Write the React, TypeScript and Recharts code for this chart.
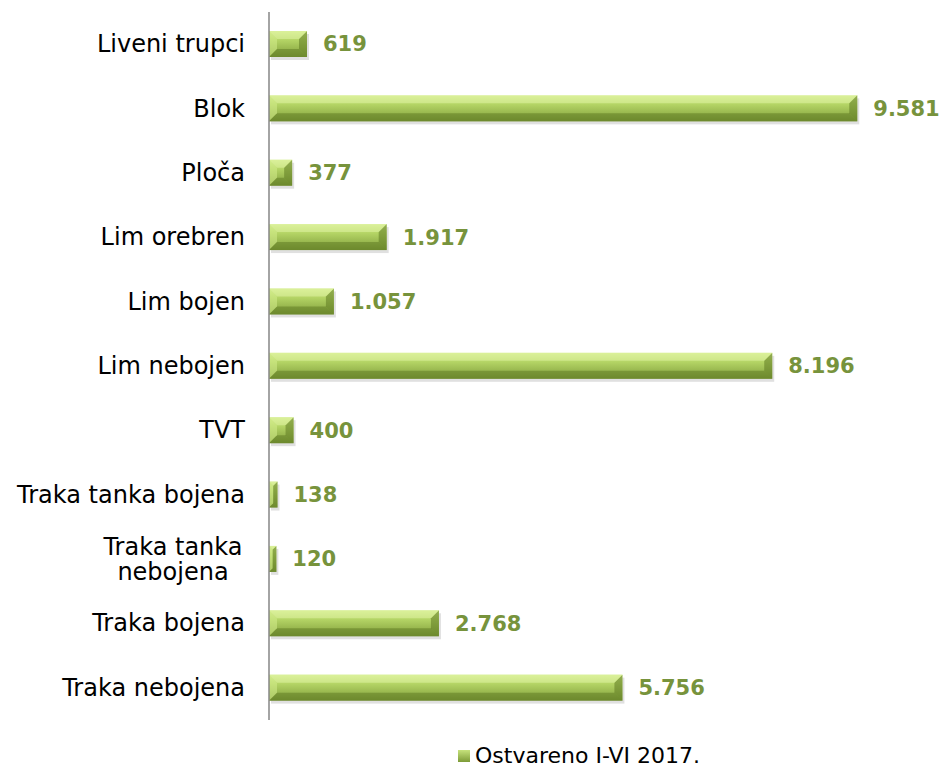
import React from "react";
import { BarChart, Bar, XAxis, YAxis, LabelList } from "recharts";

const categories = [
  "Liveni trupci",
  "Blok",
  "Ploča",
  "Lim orebren",
  "Lim bojen",
  "Lim nebojen",
  "TVT",
  "Traka tanka bojena",
  "Traka tanka nebojena",
  "Traka bojena",
  "Traka nebojena",
];
const values = [619, 9581, 377, 1917, 1057, 8196, 400, 138, 120, 2768, 5756];
const seriesName = "Ostvareno I-VI 2017.";

const data = categories.map((c, i) => ({ name: c, value: values[i] }));

const FONT = "'DejaVu Sans', Verdana, sans-serif";
const LABEL_GREEN = "#77933C";

const fmt = (v: number) => v.toString().replace(/\B(?=(\d{3})+(?!\d))/g, ".");

const BevelBar = (props: any) => {
  const { x, y, width, height } = props;
  if (width <= 0) return null;
  const b = Math.min(8, width / 2, height / 2);
  return (
    <g>
      <rect x={x + 2} y={y + 3} width={width} height={height} fill="#000" opacity={0.12} />
      <rect x={x} y={y} width={width} height={height} fill="url(#barGrad)" />
      <polygon points={`${x},${y} ${x + b},${y + b} ${x + b},${y + height - b} ${x},${y + height}`} fill="#d4ec8c" opacity={0.55} />
      <polygon points={`${x + width},${y} ${x + width - b},${y + b} ${x + width - b},${y + height - b} ${x + width},${y + height}`} fill="#5e7a22" opacity={0.55} />
      <polygon points={`${x},${y} ${x + width},${y} ${x + width - b},${y + b} ${x + b},${y + b}`} fill="#e4f5a8" opacity={0.5} />
      <polygon points={`${x},${y + height} ${x + width},${y + height} ${x + width - b},${y + height - b} ${x + b},${y + height - b}`} fill="#56701c" opacity={0.45} />
    </g>
  );
};

const CatTick = (props: any) => {
  const { x, y, payload } = props;
  const label: string = payload.value;
  if (label === "Traka tanka nebojena") {
    return (
      <text x={x - 72} y={y - 4} textAnchor="middle" fontFamily={FONT} fontSize={24} fill="#000">
        <tspan x={x - 72} dy={0}>Traka tanka</tspan>
        <tspan x={x - 72} dy={25}>nebojena</tspan>
      </text>
    );
  }
  return (
    <text x={x} y={y + 8} textAnchor="end" fontFamily={FONT} fontSize={24} fill="#000">
      {label}
    </text>
  );
};

export default function App() {
  return (
    <div style={{ position: "absolute", left: 0, top: 0, width: 941, height: 767, background: "#fff" }}>
      <BarChart
        width={941}
        height={767}
        data={data}
        layout="vertical"
        margin={{ top: 12, right: 58, bottom: 47, left: 0 }}
        barCategoryGap={0}
      >
        <defs>
          <linearGradient id="barGrad" x1="0" y1="0" x2="0" y2="1">
            <stop offset="0%" stopColor="#d2ec8c" />
            <stop offset="35%" stopColor="#b4d465" />
            <stop offset="100%" stopColor="#7f9d3a" />
          </linearGradient>
        </defs>
        <XAxis type="number" domain={[0, 10000]} hide />
        <YAxis
          type="category"
          dataKey="name"
          width={269}
          tickLine={false}
          tickSize={0}
          tickMargin={24}
          axisLine={{ stroke: "#868686", strokeWidth: 1.5 }}
          tick={<CatTick />}
          interval={0}
        />
        <Bar dataKey="value" name={seriesName} barSize={26} shape={<BevelBar />} isAnimationActive={false}>
          <LabelList
            dataKey="value"
            position="right"
            offset={16}
            formatter={(v: any) => fmt(Number(v))}
            style={{ fontFamily: FONT, fontSize: 21, fontWeight: "bold", fill: LABEL_GREEN }}
          />
        </Bar>
      </BarChart>
      <div
        style={{
          position: "absolute",
          left: 458,
          top: 745,
          display: "flex",
          alignItems: "center",
          fontFamily: FONT,
          fontSize: 22,
          color: "#000",
          whiteSpace: "nowrap",
          lineHeight: "22px",
        }}
      >
        <svg width={14} height={12} style={{ marginRight: 3 }}>
          <defs>
            <linearGradient id="legGrad" x1="0" y1="0" x2="0" y2="1">
              <stop offset="0%" stopColor="#c6e27c" />
              <stop offset="100%" stopColor="#7d9b37" />
            </linearGradient>
          </defs>
          <rect x={0} y={0} width={12} height={12} fill="url(#legGrad)" />
        </svg>
        <span>{seriesName}</span>
      </div>
    </div>
  );
}
